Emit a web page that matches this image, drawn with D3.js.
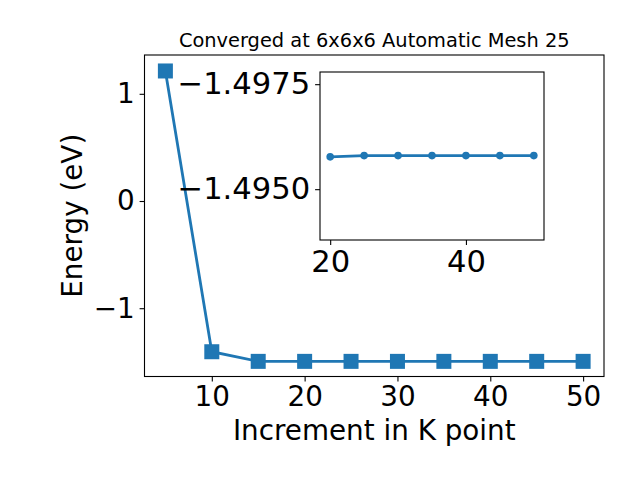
<!DOCTYPE html>
<html>
<head>
<meta charset="utf-8">
<script src="https://cdn.jsdelivr.net/npm/d3@7"></script>
<style>
  body { margin: 0; background: #fff; }
  svg { font-family: "DejaVu Sans", sans-serif; }
</style>
</head>
<body>
<div id="chart"></div>
<script>
const width = 640;
const height = 480;
const blue = "#1f77b4";

// main series
const kPoints = [5, 10, 15, 20, 25, 30, 35, 40, 45, 50];
const energies = [1.213, -1.406, -1.4958, -1.49577, -1.4958, -1.4958, -1.4958, -1.4958, -1.4958, -1.4958];
const xTicks = [10, 20, 30, 40, 50];
const yTicks = [-1, 0, 1];

// inset series (zoom from 20 up)
const insetK = [20, 25, 30, 35, 40, 45, 50];
const insetE = [-1.49577, -1.4958, -1.4958, -1.4958, -1.4958, -1.4958, -1.4958];
const insetXTicks = [20, 40];
const insetYTicks = [-1.4975, -1.4950];

const titleText = "Converged at 6x6x6 Automatic Mesh 25";
const xLabel = "Increment in K point";
const yLabel = "Energy (eV)";

const main = { left: 144.5, right: 604, top: 55, bottom: 376.5 };
const inset = { left: 320, right: 544, top: 72, bottom: 240 };

const svg = d3.select("#chart").append("svg")
    .attr("width", width)
    .attr("height", height);

const fmt = d => d3.format("")(d).replace("-", "\u2212");

function drawAxes(g, box, xScale, yScale, xt, yt, yFmt, fontSize) {
    const xAxis = d3.axisBottom(xScale).tickValues(xt).tickSize(4.9).tickPadding(4.9).tickFormat(fmt);
    const yAxis = d3.axisLeft(yScale).tickValues(yt).tickSize(4.9).tickPadding(4.9).tickFormat(yFmt);

    const gx = g.append("g")
        .attr("transform", `translate(0,${box.bottom})`)
        .call(xAxis);
    const gy = g.append("g")
        .attr("transform", `translate(${box.left},0)`)
        .call(yAxis);
    [gx, gy].forEach(a => {
        a.select(".domain").remove();
        a.selectAll("line").attr("stroke", "#000").attr("stroke-width", 1.1);
        a.selectAll("text")
            .attr("fill", "#000")
            .style("font-family", "DejaVu Sans, sans-serif")
            .style("font-size", fontSize);
    });

    g.append("rect")
        .attr("x", box.left)
        .attr("y", box.top)
        .attr("width", box.right - box.left)
        .attr("height", box.bottom - box.top)
        .attr("fill", "none")
        .attr("stroke", "#000")
        .attr("stroke-width", 1.1);
}

// main axes
var xScale = d3.scaleLinear().domain([2.75, 52.25]).range([main.left, main.right]);
var yScale = d3.scaleLinear().domain([-1.637, 1.362]).range([main.bottom, main.top]);

const mainG = svg.append("g");
drawAxes(mainG, main, xScale, yScale, xTicks, yTicks, fmt, "27.8px");

const mainData = kPoints.map((k, i) => ({ k: k, e: energies[i] }));
var line = d3.line()
    .x(d => xScale(d.k))
    .y(d => yScale(d.e));

mainG.append("path")
    .attr("d", line(mainData))
    .attr("fill", "none")
    .attr("stroke", blue)
    .attr("stroke-width", 2.8);

const sq = 15;
mainG.selectAll("rect.pt")
    .data(mainData).enter()
    .append("rect")
    .attr("class", "pt")
    .attr("x", d => xScale(d.k) - sq / 2)
    .attr("y", d => yScale(d.e) - sq / 2)
    .attr("width", sq)
    .attr("height", sq)
    .attr("fill", blue);

mainG.append("text")
    .attr("x", (main.left + main.right) / 2)
    .attr("y", 47)
    .attr("text-anchor", "middle")
    .style("font-size", "19.4px")
    .text(titleText);

mainG.append("text")
    .attr("x", (main.left + main.right) / 2)
    .attr("y", 440)
    .attr("text-anchor", "middle")
    .style("font-size", "27.8px")
    .text(xLabel);

mainG.append("text")
    .attr("transform", `translate(82,${(main.top + main.bottom) / 2}) rotate(-90)`)
    .attr("text-anchor", "middle")
    .style("font-size", "27.8px")
    .text(yLabel);

// inset axes (y axis runs downward)
var ixScale = d3.scaleLinear().domain([18.5, 51.5]).range([inset.left, inset.right]);
var iyScale = d3.scaleLinear().domain([-1.49779, -1.49379]).range([inset.top, inset.bottom]);

const insetG = svg.append("g");
insetG.append("rect")
    .attr("x", inset.left)
    .attr("y", inset.top)
    .attr("width", inset.right - inset.left)
    .attr("height", inset.bottom - inset.top)
    .attr("fill", "#fff");
drawAxes(insetG, inset, ixScale, iyScale, insetXTicks, insetYTicks,
    d => d3.format(".4f")(d).replace("-", "\u2212"), "30.6px");

const insetData = insetK.map((k, i) => ({ k: k, e: insetE[i] }));
var iline = d3.line()
    .x(d => ixScale(d.k))
    .y(d => iyScale(d.e));

insetG.append("path")
    .attr("d", iline(insetData))
    .attr("fill", "none")
    .attr("stroke", blue)
    .attr("stroke-width", 2.8);

insetG.selectAll("circle")
    .data(insetData).enter()
    .append("circle")
    .attr("cx", d => ixScale(d.k))
    .attr("cy", d => iyScale(d.e))
    .attr("r", 3.8)
    .attr("fill", blue);
</script>
</body>
</html>
